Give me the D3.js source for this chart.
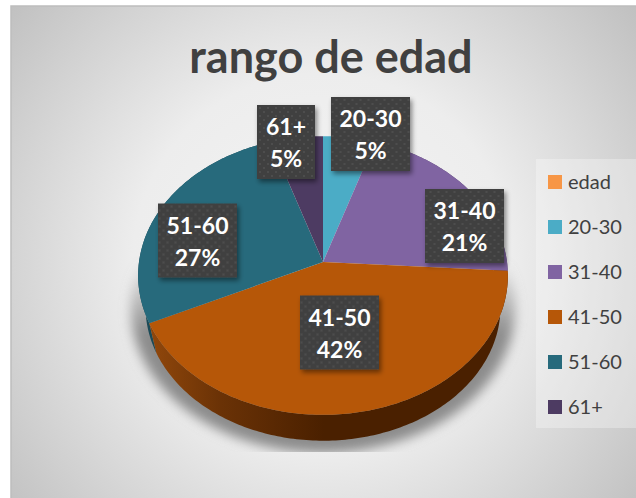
<!DOCTYPE html>
<meta charset="utf-8">
<title>rango de edad</title>
<style>
  body { margin: 0; background: white; font-family: Lato, sans-serif; }
  svg { display: block; }
</style>
<body>
<script src="https://d3js.org/d3.v7.min.js"></script>
<script>
// chart values
const titleText = "rango de edad";
const legendNames = ["edad", "20-30", "31-40", "41-50", "51-60", "61+"];
const legendColors = ["#F79646", "#4BACC6", "#8064A2", "#B65708", "#276A7C", "#4D3B62"];
const sliceNames = ["20-30", "31-40", "41-50", "51-60", "61+"];
const sliceValues = [5, 21, 42, 27, 5];
const sliceLabels = ["5%", "21%", "42%", "27%", "5%"];

const width = 636, height = 498;

// pie geometry, tilted with a bit of perspective like the excel 3d pie
const cx = 323, cy = 262;
const radiusX = 184, radiusY = 138, tilt = 0.097;
const depth = 32, bottomScale = 0.96;

function project(a, scale, shift) {
  const px = Math.sin(a), py = -Math.cos(a);
  const w = 1 / (1 - tilt * py);
  return [cx + scale * radiusX * px * w, cy + shift + scale * radiusY * py * w];
}

const color = d3.scaleOrdinal().domain(legendNames).range(legendColors);
const pie = d3.pie().sort(null).value(d => d.value);
const slices = pie(sliceNames.map((name, i) => ({ name: name, value: sliceValues[i], label: sliceLabels[i] })));

function rimAngles(a0, a1) {
  const n = Math.max(2, Math.ceil((a1 - a0) * 60));
  return d3.range(n + 1).map(i => a0 + (a1 - a0) * i / n);
}
const line = d3.line();

const svg = d3.select("body").append("svg").attr("width", width).attr("height", height);
const defs = svg.append("defs");

// background
const bg = defs.append("radialGradient").attr("id", "bg").attr("gradientUnits", "userSpaceOnUse")
  .attr("cx", 322).attr("cy", 262).attr("r", 420);
bg.append("stop").attr("offset", 0).attr("stop-color", "#f4f4f4");
bg.append("stop").attr("offset", 0.45).attr("stop-color", "#ededed");
bg.append("stop").attr("offset", 1).attr("stop-color", "#bdbdbd");

// wall colour
const wall = defs.append("linearGradient").attr("id", "wall").attr("gradientUnits", "userSpaceOnUse")
  .attr("x1", 140).attr("x2", 508).attr("y1", 0).attr("y2", 0);
wall.append("stop").attr("offset", 0).attr("stop-color", "#964a0c");
wall.append("stop").attr("offset", 0.22).attr("stop-color", "#6a3206");
wall.append("stop").attr("offset", 0.5).attr("stop-color", "#4a2000");
wall.append("stop").attr("offset", 1).attr("stop-color", "#4a2000");

// shadow fades out going up
const shade = defs.append("linearGradient").attr("id", "shade").attr("gradientUnits", "userSpaceOnUse")
  .attr("x1", 0).attr("x2", 0).attr("y1", 262).attr("y2", 335);
shade.append("stop").attr("offset", 0).attr("stop-color", "#8c8c8c").attr("stop-opacity", 0);
shade.append("stop").attr("offset", 1).attr("stop-color", "#8c8c8c").attr("stop-opacity", 1);

// dotted label background
const dots = defs.append("pattern").attr("id", "dots").attr("patternUnits", "userSpaceOnUse")
  .attr("width", 8).attr("height", 8);
dots.append("rect").attr("width", 8).attr("height", 8).attr("fill", "#404040");
dots.append("circle").attr("cx", 2).attr("cy", 2).attr("r", 1).attr("fill", "#525252");
dots.append("circle").attr("cx", 6).attr("cy", 6).attr("r", 1).attr("fill", "#525252");

defs.append("filter").attr("id", "boxShadow").attr("x", "-20%").attr("y", "-20%").attr("width", "150%").attr("height", "150%")
  .append("feDropShadow").attr("dx", 2).attr("dy", 3).attr("stdDeviation", 2.5)
  .attr("flood-color", "#000").attr("flood-opacity", 0.45);
defs.append("filter").attr("id", "blur").attr("x", "-20%").attr("y", "-20%").attr("width", "140%").attr("height", "140%")
  .append("feGaussianBlur").attr("stdDeviation", 6);
defs.append("clipPath").attr("id", "shadowClip").append("rect")
  .attr("x", 100).attr("y", 250).attr("width", 440).attr("height", 202);

svg.append("rect").attr("x", 11).attr("y", 6).attr("width", width).attr("height", height)
  .attr("fill", "url(#bg)").attr("stroke", "#bdbdbd").attr("stroke-width", 1.5);

// title
svg.append("text").attr("x", 331).attr("y", 73).attr("text-anchor", "middle")
  .attr("font-size", 45).attr("font-weight", 700).attr("fill", "#404040").text(titleText);

// soft shadow under the pie
svg.append("g").attr("clip-path", "url(#shadowClip)").append("g").attr("filter", "url(#blur)").append("path")
  .attr("d", line(rimAngles(0, 2 * Math.PI).map(a => project(a, 1.04, depth))) + "Z")
  .attr("fill", "url(#shade)");

// outer wall, back to front
const wallOrder = [1, 3, 2];
svg.append("g").selectAll("path").data(wallOrder.map(i => slices[i])).join("path")
  .attr("d", d => {
    const angles = rimAngles(d.startAngle, d.endAngle);
    const top = angles.map(a => project(a, 1, 0));
    const bottom = angles.slice().reverse().map(a => project(a, bottomScale, depth));
    return line(top.concat(bottom)) + "Z";
  })
  .attr("fill", d => d.data.name === "41-50" ? "url(#wall)" : d3.color(color(d.data.name)).darker(1));

// top of the pie
svg.append("g").selectAll("path").data(slices).join("path")
  .attr("d", d => line([[cx, cy]].concat(rimAngles(d.startAngle, d.endAngle).map(a => project(a, 1, 0)))) + "Z")
  .attr("fill", d => color(d.data.name));

// data labels, best fit places
const boxW = 79, boxH = 74;
const labelCenters = [[370.5, 134], [464.5, 226], [339.5, 332.5], [197.5, 240.5], [286, 142]];
const labels = svg.append("g").selectAll("g").data(slices).join("g")
  .attr("transform", (d, i) => `translate(${labelCenters[i][0]},${labelCenters[i][1]})`);
labels.append("rect")
  .attr("x", (d, i) => d.data.name === "61+" ? -29 : -boxW / 2).attr("y", -boxH / 2)
  .attr("width", d => d.data.name === "61+" ? 58 : boxW).attr("height", boxH)
  .attr("fill", "url(#dots)").attr("filter", "url(#boxShadow)");
labels.append("text").attr("text-anchor", "middle").attr("y", -7)
  .attr("font-size", 23).attr("font-weight", 700).attr("fill", "white").text(d => d.data.name);
labels.append("text").attr("text-anchor", "middle").attr("y", 25)
  .attr("font-size", 23).attr("font-weight", 700).attr("fill", "white").text(d => d.data.label);

// legend
svg.append("rect").attr("x", 536).attr("y", 159).attr("width", 100).attr("height", 269)
  .attr("fill", "#fff").attr("fill-opacity", 0.3);
const legendY = d3.scalePoint().domain(legendNames).range([182, 407]);
const legend = svg.append("g").selectAll("g").data(legendNames).join("g")
  .attr("transform", d => `translate(548,${legendY(d)})`);
legend.append("rect").attr("y", -7).attr("width", 14).attr("height", 14).attr("fill", d => color(d));
legend.append("text").attr("x", 20).attr("y", 7).attr("font-size", 20).attr("fill", "#404040").text(d => d);
</script>
</body>
